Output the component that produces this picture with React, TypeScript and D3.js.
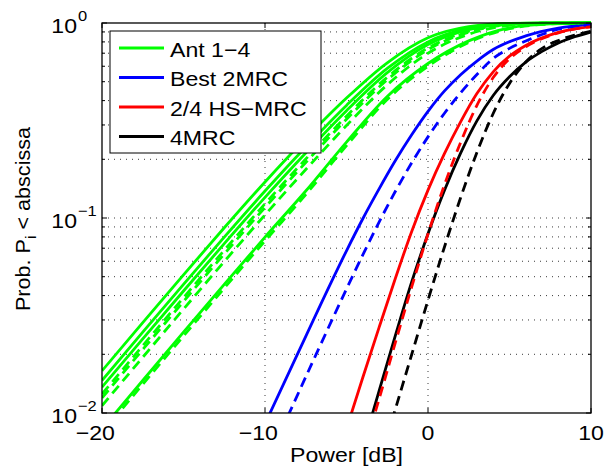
import React from 'react';
import * as d3 from 'd3';

const W = 605, H = 476;
const PL = 102, PT = 23, PR = 591, PB = 413;

const xTicks = [-20, -10, 0, 10];
const xTickLabels = ['−20', '−10', '0', '10'];
const yTicks = [0.01, 0.1, 1];
const yTickExp = ['−2', '−1', '0'];
const legendLabels = ['Ant 1−4', 'Best 2MRC', '2/4 HS−MRC', '4MRC'];
const legendColors = ['#00ff00', '#0000ff', '#ff0000', '#000000'];

// Antenna curves (dB grid)
const antX = [-20, -17.5, -15, -12.5, -10, -7.5, -5, -2.5, 0, 2.5, 5, 7.5, 10];
const ant1 = [0.01646, 0.02908, 0.05113, 0.0891, 0.153, 0.2556, 0.412, 0.625, 0.84, 0.958, 0.996, 0.9999, 1.0];
const ant2 = [0.01468, 0.02596, 0.04569, 0.07982, 0.1375, 0.2313, 0.378, 0.585, 0.8, 0.94, 0.992, 0.9998, 1.0];
const ant3 = [0.01356, 0.02398, 0.04223, 0.07387, 0.1276, 0.2155, 0.355, 0.556, 0.775, 0.925, 0.988, 0.9995, 1.0];
const ant4 = [0.00828, 0.01468, 0.02596, 0.04569, 0.07982, 0.1375, 0.245, 0.42, 0.62, 0.81, 0.945, 0.99, 0.9998];
const ant1Dash = [0.01251, 0.02214, 0.03903, 0.06834, 0.1183, 0.2006, 0.333, 0.527, 0.745, 0.908, 0.984, 0.9992, 1.0];
const ant2Dash = [0.01195, 0.02115, 0.03731, 0.06537, 0.1133, 0.1925, 0.321, 0.511, 0.73, 0.898, 0.98, 0.9988, 1.0];
const ant3Dash = [0.0109, 0.01931, 0.03408, 0.0598, 0.1038, 0.1772, 0.298, 0.482, 0.7, 0.876, 0.973, 0.998, 1.0];
const ant4Dash = [0.00791, 0.01403, 0.02481, 0.04369, 0.07636, 0.1318, 0.235, 0.405, 0.6, 0.795, 0.935, 0.988, 0.9997];

// Best 2MRC
const best2X = [-10, -8, -6, -5, -4, -3, -2, -1, 0, 1, 2, 3, 4, 6, 8, 10];
const best2 = [0.0088, 0.0201, 0.0457, 0.0679, 0.0991, 0.141, 0.197, 0.267, 0.352, 0.447, 0.543, 0.638, 0.731, 0.859, 0.942, 0.982];
const best2DashX = [-9, -7, -5, -4, -3, -2, -1, 0, 1, 2, 3, 4, 5, 6, 8, 10];
const best2Dash = [0.00813, 0.01888, 0.04325, 0.0647, 0.0953, 0.1371, 0.1919, 0.2606, 0.3436, 0.4385, 0.5445, 0.6577, 0.741, 0.809, 0.929, 0.982];

// 2/4 HS-MRC
const hsX = [-5, -4, -3, -2, -1, 0, 1, 2, 3, 4, 5, 6, 8, 10];
const hs = [0.0083, 0.0152, 0.0275, 0.0491, 0.0853, 0.139, 0.213, 0.311, 0.4345, 0.562, 0.676, 0.767, 0.895, 0.959];
const hsDashX = [-3.5, -3, -2, -1, 0, 1, 2, 3, 4, 5, 6, 8, 10];
const hsDash = [0.0085, 0.0118, 0.023, 0.0443, 0.0828, 0.147, 0.244, 0.378, 0.525, 0.655, 0.755, 0.89, 0.957];

// 4MRC
const mrcX = [-3.75, -3, -2, -1, 0, 1, 2, 3, 4, 5, 6, 7, 8, 9, 10];
const mrc = [0.0079, 0.013, 0.025, 0.047, 0.083, 0.138, 0.215, 0.315, 0.425, 0.53, 0.63, 0.715, 0.79, 0.85, 0.9];
const mrcDashX = [-2.5, -2, -1, 0, 1, 2, 3, 4, 5, 6, 7, 8, 9, 10];
const mrcDash = [0.00759, 0.01047, 0.01995, 0.0379, 0.0706, 0.127, 0.2168, 0.3436, 0.49, 0.631, 0.741, 0.813, 0.867, 0.908];

const GREEN = '#00ff00', BLUE = '#0000ff', RED = '#ff0000', BLACK = '#000000';

const series = [
  { x: antX, y: ant1, c: GREEN, d: false },
  { x: antX, y: ant2, c: GREEN, d: false },
  { x: antX, y: ant3, c: GREEN, d: false },
  { x: antX, y: ant4, c: GREEN, d: false },
  { x: best2X, y: best2, c: BLUE, d: false },
  { x: hsX, y: hs, c: RED, d: false },
  { x: mrcX, y: mrc, c: BLACK, d: false },
  { x: antX, y: ant1Dash, c: GREEN, d: true },
  { x: antX, y: ant2Dash, c: GREEN, d: true },
  { x: antX, y: ant3Dash, c: GREEN, d: true },
  { x: antX, y: ant4Dash, c: GREEN, d: true },
  { x: best2DashX, y: best2Dash, c: BLUE, d: true },
  { x: hsDashX, y: hsDash, c: RED, d: true },
  { x: mrcDashX, y: mrcDash, c: BLACK, d: true },
];

const FONT = '"Liberation Sans", Arial, Helvetica, sans-serif';
const SX = 1.1;
const LW = 2.8;

export default function App() {
  const x = d3.scaleLinear().domain([-20, 10]).range([PL, PR]);
  const y = d3.scaleLog().domain([0.01, 1]).range([PB, PT]);
  const line = d3
    .line<[number, number]>()
    .x((d) => x(d[0]))
    .y((d) => y(d[1]))
    .curve(d3.curveMonotoneX);

  const allY = y.ticks();
  const minorY = allY.filter((v) => !yTicks.some((t) => Math.abs(t - v) < 1e-9));
  const gridY = allY.filter((v) => v > 0.0101 && v < 0.999);

  const gridStyle = { stroke: '#3a3a3a', strokeWidth: 1, strokeDasharray: '1,5' };

  const legY = [48, 77.5, 107, 136.5];

  return (
    <svg width={W} height={H} style={{ position: 'absolute', left: 0, top: 0, background: '#fff' }} fontFamily={FONT}>
      <defs>
        <clipPath id="plotclip">
          <rect x={PL} y={PT - 2} width={PR - PL} height={PB - PT + 2} />
        </clipPath>
      </defs>
      <rect x={0} y={0} width={W} height={H} fill="#fff" />
      {/* grid */}
      {gridY.map((v, i) => (
        <line key={'gy' + i} x1={PL} x2={PR} y1={y(v)} y2={y(v)} {...gridStyle} />
      ))}
      {xTicks.slice(1, -1).map((v, i) => (
        <line key={'gx' + i} x1={x(v)} x2={x(v)} y1={PT} y2={PB} {...gridStyle} />
      ))}
      {/* data */}
      <g clipPath="url(#plotclip)">
        {series.map((s, i) => (
          <path
            key={'s' + i}
            d={line(s.x.map((v, j) => [v, s.y[j]] as [number, number])) || ''}
            fill="none"
            stroke={s.c}
            strokeWidth={LW}
            strokeDasharray={s.d ? '10,6' : undefined}
          />
        ))}
      </g>
      {/* frame */}
      <rect x={PL} y={PT} width={PR - PL} height={PB - PT} fill="none" stroke="#000" strokeWidth={1.3} />
      {/* ticks */}
      {xTicks.map((v, i) => (
        <g key={'xt' + i}>
          <line x1={x(v)} x2={x(v)} y1={PB} y2={PB - 5} stroke="#000" />
          <line x1={x(v)} x2={x(v)} y1={PT} y2={PT + 5} stroke="#000" />
        </g>
      ))}
      {yTicks.map((v, i) => (
        <g key={'yt' + i}>
          <line x1={PL} x2={PL + 5} y1={y(v)} y2={y(v)} stroke="#000" />
          <line x1={PR} x2={PR - 5} y1={y(v)} y2={y(v)} stroke="#000" />
        </g>
      ))}
      {minorY.map((v, i) => (
        <g key={'ym' + i}>
          <line x1={PL} x2={PL + 3} y1={y(v)} y2={y(v)} stroke="#000" />
          <line x1={PR} x2={PR - 3} y1={y(v)} y2={y(v)} stroke="#000" />
        </g>
      ))}
      {/* x tick labels */}
      {xTicks.map((v, i) => {
        const lab = xTickLabels[i];
        const neg = lab.startsWith('−');
        const digits = neg ? lab.slice(1) : lab;
        const dw = digits.length * 0.556 * 21 * SX;
        return (
          <g key={'xl' + i}>
            <text transform={`translate(${x(v)},440) scale(${SX},1)`} textAnchor="middle" fontSize={21}>
              {digits}
            </text>
            {neg && (
              <text transform={`translate(${x(v) - dw / 2},440) scale(${SX},1)`} textAnchor="end" fontSize={21}>
                −
              </text>
            )}
          </g>
        );
      })}
      {/* y tick labels */}
      {yTicks.map((v, i) => (
        <g key={'yl' + i}>
          <text transform={`translate(77,${y(v) + 10}) scale(${SX},1)`} textAnchor="end" fontSize={21}>
            10
          </text>
          <text transform={`translate(78,${y(v) - 2}) scale(${SX},1)`} textAnchor="start" fontSize={15}>
            {yTickExp[i]}
          </text>
        </g>
      ))}
      {/* axis labels */}
      <text transform={`translate(${(PL + PR) / 2},461.5) scale(${SX},1)`} textAnchor="middle" fontSize={21}>
        Power [dB]
      </text>
      <text transform={`translate(30,${(PT + PB) / 2 + 1}) rotate(-90) scale(1.03,1)`} textAnchor="middle" fontSize={21}>
        Prob. P
        <tspan fontSize={15} dy={6}>i</tspan>
        <tspan dy={-6}> &lt; abscissa</tspan>
      </text>
      {/* legend */}
      <rect x={110} y={31} width={211} height={122} fill="#fff" stroke="#000" strokeWidth={1} />
      {legendLabels.map((l, i) => (
        <g key={'lg' + i}>
          <line x1={119} x2={164} y1={legY[i]} y2={legY[i]} stroke={legendColors[i]} strokeWidth={LW} />
          <text transform={`translate(170,${legY[i] + 8.5}) scale(${SX},1)`} fontSize={21}>
            {l}
          </text>
        </g>
      ))}
    </svg>
  );
}
